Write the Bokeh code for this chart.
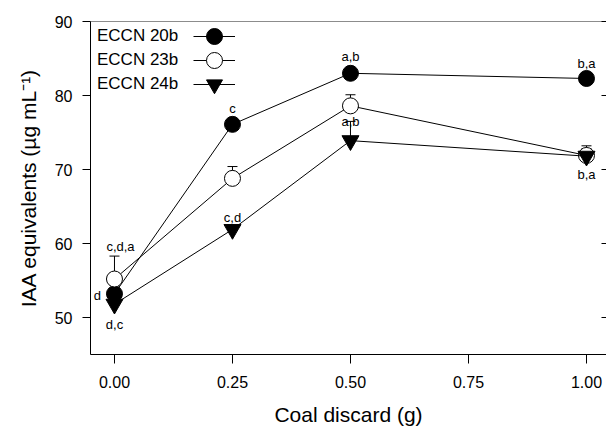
from bokeh.plotting import figure
from bokeh.models import (ColumnDataSource, Range1d, LinearAxis, Legend, LegendItem,
                          Whisker, TeeHead, FixedTicker, CustomJSTickFormatter)
from bokeh.embed import file_html
from bokeh.resources import INLINE
from bokeh.core.properties import value

# ---------------- data ----------------
coal = [0.00, 0.25, 0.50, 1.00]
eccn20b = [53.2, 76.1, 83.0, 82.3]
eccn20b_err = [0.5, 0.5, 0.5, 0.4]
eccn23b = [55.2, 68.8, 78.6, 71.9]
eccn23b_err = [3.1, 1.6, 1.5, 1.3]
eccn24b = [51.8, 61.9, 73.9, 71.8]
eccn24b_err = [0.4, 0.4, 2.6, 1.0]
labels20 = ["d", "c", "a,b", "b,a"]
labels23 = ["c,d,a", "", "", ""]
labels24 = ["d,c", "c,d", "a,b", "b,a"]
series_names = ["ECCN 20b", "ECCN 23b", "ECCN 24b"]
x_ticks = [0.0, 0.25, 0.5, 0.75, 1.0]
x_tick_labels = ["0.00", "0.25", "0.50", "0.75", "1.00"]
y_ticks = [50, 60, 70, 80, 90]

# ---------------- styles ----------------
FONT = "Liberation Sans"
W, H = 606, 429
ML, MT, MB = 90, 21, 75
FRAME_H = H - MT - MB
# label pixel offsets (dx, dy) relative to the point
off20 = [(-17, 2), (0, -16), (0, -17), (0, -15)]
off23 = [(6, -33), (0, 0), (0, 0), (0, 0)]
off24 = [(0, 20), (0, -12), (0, -19), (0, 18)]

p = figure(width=W, height=H, output_backend="svg", toolbar_location=None,
           x_range=Range1d(-0.0508, 1.0424), y_range=Range1d(45, 90),
           min_border_left=ML, min_border_top=MT, min_border_bottom=MB,
           min_border_right=0,
           x_axis_label="Coal discard (g)",
           y_axis_label="IAA equivalents (\u00b5g mL\u207b\u00b9)")
p.grid.visible = False
p.outline_line_color = None
p.background_fill_color = "white"

for ax in (p.xaxis[0], p.yaxis[0]):
    ax.axis_line_color = "black"
    ax.axis_line_width = 1
    ax.major_tick_line_color = "black"
    ax.major_tick_in = 0
    ax.minor_tick_line_color = None
    ax.major_label_text_font = FONT
    ax.major_label_text_font_size = "16px"
    ax.major_label_text_color = "black"
    ax.axis_label_text_font = FONT
    ax.axis_label_text_font_size = "21px"
    ax.axis_label_text_font_style = "normal"
    ax.axis_label_text_color = "black"

p.xaxis[0].ticker = FixedTicker(ticks=x_ticks)
p.xaxis[0].major_label_overrides = {t: s for t, s in zip(x_ticks, x_tick_labels)}
p.xaxis[0].major_tick_out = 9
p.xaxis[0].major_label_standoff = 12
p.xaxis[0].axis_label_standoff = 12
p.yaxis[0].ticker = FixedTicker(ticks=y_ticks)
p.yaxis[0].major_tick_out = 8
p.yaxis[0].major_label_standoff = 10
p.yaxis[0].axis_label_standoff = 12

# right axis: inward ticks only, no labels
rax = LinearAxis(ticker=FixedTicker(ticks=y_ticks), axis_line_alpha=0,
                 major_tick_in=5, major_tick_out=0, minor_tick_line_color=None,
                 formatter=CustomJSTickFormatter(code="return ''"),
                 major_label_standoff=0, major_tick_line_color="black")
p.add_layout(rax, "right")
# top: grey frame line
tax = LinearAxis(ticker=FixedTicker(ticks=[]), axis_line_color="#8c8c8c",
                 major_tick_line_color=None, minor_tick_line_color=None,
                 major_label_standoff=0)
p.add_layout(tax, "above")

series = [
    (eccn20b, eccn20b_err, labels20, off20, dict(marker="circle", size=16, fill_color="black")),
    (eccn23b, eccn23b_err, labels23, off23, dict(marker="circle", size=16, fill_color="white")),
    (eccn24b, eccn24b_err, labels24, off24, dict(marker="inverted_triangle", size=17, fill_color="black")),
]

legend_line = []
legend_pairs = []
for vals, errs, labs, offs, mstyle in series:
    src = ColumnDataSource(dict(x=coal, y=vals,
                                upper=[v + e for v, e in zip(vals, errs)]))
    w = Whisker(source=src, base="x", lower="y", upper="upper", dimension="height",
                line_color="black", line_width=1, lower_head=None,
                upper_head=TeeHead(size=10, line_color="black", line_width=1),
                level="underlay")
    p.add_layout(w)
    lr = p.line("x", "y", source=src, line_color="black", line_width=1)
    sr = p.scatter("x", "y", source=src, line_color="black", line_width=1, **mstyle)
    legend_line.append(lr)
    legend_pairs.append((lr, sr))
    keep = [i for i, t in enumerate(labs) if t]
    tsrc = ColumnDataSource(dict(x=[coal[i] for i in keep], y=[vals[i] for i in keep],
                                 t=[labs[i] for i in keep],
                                 dx=[offs[i][0] for i in keep],
                                 dy=[offs[i][1] for i in keep]))
    p.text("x", "y", text="t", source=tsrc, x_offset="dx", y_offset="dy",
           text_font=value(FONT), text_font_size="13px", text_color="black",
           text_align="center", text_baseline="middle")

# legend texts (left) + glyph legends (right)
ROW = 24
text_leg = Legend(items=[LegendItem(label=n, renderers=[r]) for n, r in zip(series_names, legend_line)],
                  location=(7, FRAME_H - 3 - 3 * ROW), glyph_width=0, glyph_height=ROW,
                  label_height=ROW, label_standoff=0, spacing=0, padding=0, margin=0,
                  label_text_font=FONT, label_text_font_size="17px", label_text_color="black",
                  border_line_color=None, background_fill_alpha=0)
p.add_layout(text_leg)
for k, (n, (lr, sr)) in enumerate(zip(series_names, legend_pairs)):
    gl = Legend(items=[LegendItem(label="", renderers=[lr, sr])],
                location=(103, FRAME_H - (15 + k * ROW) - 20), glyph_width=42, glyph_height=40,
                label_height=40, label_width=0, label_standoff=0, spacing=0, padding=0, margin=0,
                border_line_color=None, background_fill_alpha=0)
    p.add_layout(gl)

open("out.html", "w").write(file_html(p, INLINE))
